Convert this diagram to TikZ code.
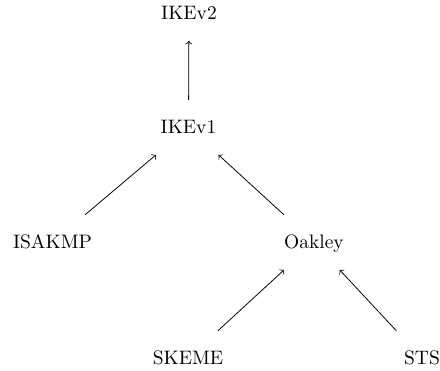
\documentclass[tikz,border=0pt]{standalone}
\begin{document}
\begin{tikzpicture}[x=0.513pt, y=-0.513pt,
  proto/.style={anchor=base, text height=6.83pt, text depth=0pt,
                inner xsep=6pt, inner ysep=10.5pt},
  dep/.style={->, line width=0.4pt}]
\useasboundingbox (0,0) rectangle (440,371);
% protocol names, placed on their baselines
\node[proto] (ikev2)  at (189,20)  {IKEv2};
\node[proto] (ikev1)  at (188.5,134) {IKEv1};
\node[proto] (isakmp) at (52.5,249) {ISAKMP};
\node[proto] (oakley) at (314,249) {Oakley};
\node[proto] (skeme)  at (188,365) {SKEME};
\node[proto] (sts)    at (422,365) {STS};
% derivation arrows
\draw[dep] (ikev1)  -- (ikev2);
\draw[dep] (isakmp) -- (ikev1);
\draw[dep] (oakley) -- (ikev1);
\draw[dep] (skeme)  -- (oakley);
\draw[dep] (sts)    -- (oakley);
\end{tikzpicture}
\end{document}
